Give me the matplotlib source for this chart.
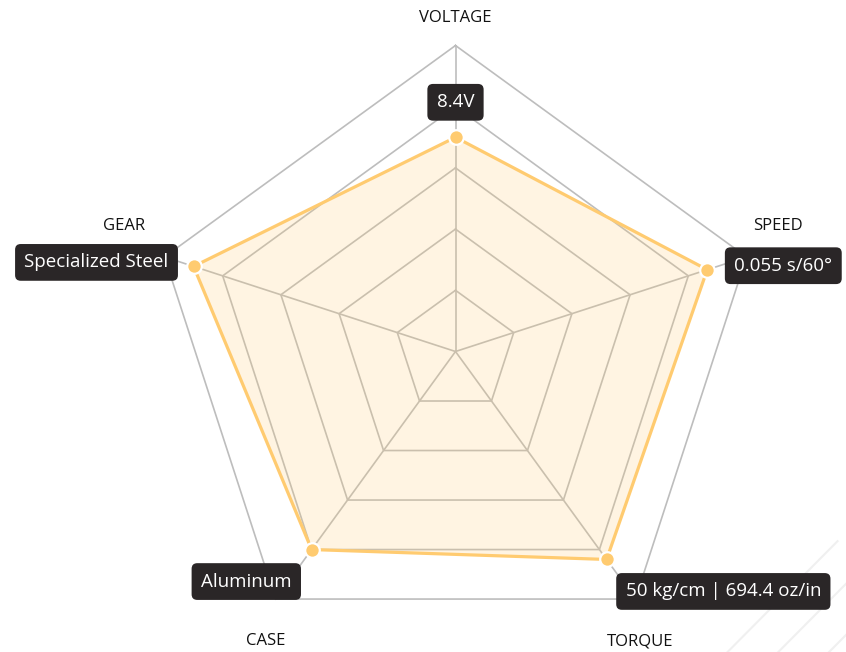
import numpy as np
import matplotlib
matplotlib.use("Agg")
import matplotlib.pyplot as plt
from matplotlib.lines import Line2D

plt.rcParams['font.family'] = ['Open Sans', 'DejaVu Sans']

# data
categories = ['VOLTAGE', 'SPEED', 'TORQUE', 'CASE', 'GEAR']
values = [0.70, 0.865, 0.84, 0.80, 0.90]
value_labels = ['8.4V', '0.055 s/60°', '50 kg/cm | 694.4 oz/in', 'Aluminum', 'Specialized Steel']
levels = [0.2, 0.4, 0.6, 0.8, 1.0]

W, H = 846, 652
cx, cy, R = 455.5, 351.5, 306.0   # centre and outer radius in pixels

fig = plt.figure(figsize=(W / 100, H / 100), dpi=100)
fig.patch.set_facecolor('white')
ax = fig.add_axes([0, 0, 1, 1])
ax.set_xlim(-cx / R, (W - cx) / R)
ax.set_ylim(-(H - cy) / R, cy / R)
ax.axis('off')

n = len(categories)
ang = np.deg2rad(90 - 360 / n * np.arange(n))
ux, uy = np.cos(ang), np.sin(ang)

# grid pentagons + spokes
for lv in levels:
    ax.plot(np.append(ux, ux[0]) * lv, np.append(uy, uy[0]) * lv,
            color='#bdbdbd', lw=1.2, zorder=1)
for i in range(n):
    ax.plot([0, ux[i]], [0, uy[i]], color='#bdbdbd', lw=1.2, zorder=1)

# data polygon
v = np.array(values)
px, py = ux * v, uy * v
ax.fill(px, py, color='#FFCB70', alpha=0.2, lw=0, zorder=2)
ax.plot(np.append(px, px[0]), np.append(py, py[0]), color='#FFCB70', lw=2.3, zorder=3)
ax.plot(px, py, 'o', ms=10.5, mfc='#FFCB70', mec='white', mew=1.6, zorder=4)

# category labels (offsets in pixels from outer vertex)
label_off = [(0, 27), (31, 31), (5, -42), (-10, -42), (-40, 31)]
for i, c in enumerate(categories):
    ax.annotate(c, (ux[i], uy[i]), xytext=label_off[i], textcoords='offset pixels',
                ha='center', va='center', fontsize=12, color='#111111', zorder=5)

# value boxes
box_pos = [((0, 26), 'center', 'bottom'),
           ((27, 4), 'left', 'center'),
           ((19, -23), 'left', 'top'),
           ((-20, -23), 'right', 'top'),
           ((-25, 4), 'right', 'center')]
for i, t in enumerate(value_labels):
    off, ha, va = box_pos[i]
    ax.annotate(t, (px[i], py[i]), xytext=off, textcoords='offset pixels',
                ha=ha, va=va, fontsize=13.5, color='white', zorder=6,
                bbox=dict(boxstyle='round,pad=0.5,rounding_size=0.3',
                          fc='#2a2627', ec='none'))

# faint stripes bottom right
for x0 in [0.86, 0.92, 0.98]:
    fig.add_artist(Line2D([x0, x0 + 0.13], [0.0, 0.17], color='#f0f0f0', lw=1.5, zorder=0))

fig.savefig('out.png', dpi=100, facecolor='white')
